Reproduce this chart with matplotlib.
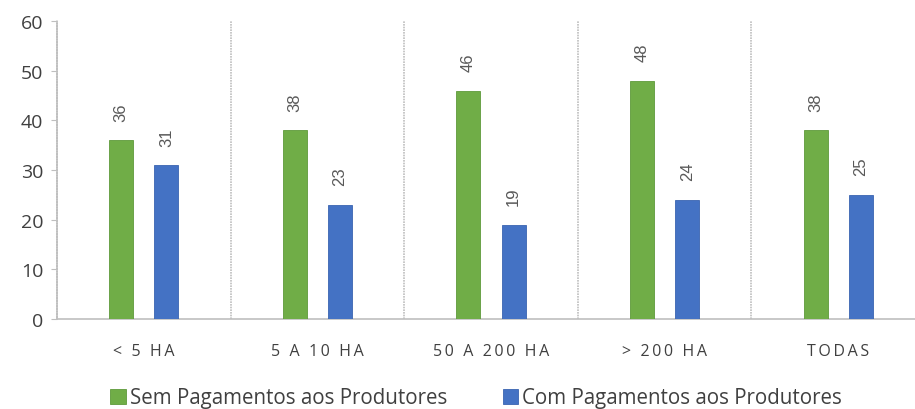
import matplotlib.pyplot as plt
import numpy as np

# dados do grafico
categorias = ["< 5 HA", "5 A 10 HA", "50 A 200 HA", "> 200 HA", "TODAS"]
sem_pagamentos = [36, 38, 46, 48, 38]
com_pagamentos = [31, 23, 19, 24, 25]
serie_nomes = ["Sem Pagamentos aos Produtores", "Com Pagamentos aos Produtores"]
y_ticks = [0, 10, 20, 30, 40, 50, 60]

verde = "#70AD47"
azul = "#4472C4"
cinza = "#595959"
linha = "#BFBFBF"

plt.rcParams['font.family'] = ['Open Sans', 'DejaVu Sans']


def espacar(texto):
    # letras espaçadas como no original
    return "\u2009".join(texto)


fig = plt.figure(figsize=(9.15, 4.1), dpi=100)
ax = fig.add_axes([57 / 915, 90 / 410, 868 / 915, 298 / 410])

x = np.arange(len(categorias))
largura = 0.138
desloc = 0.13

b1 = ax.bar(x - desloc, sem_pagamentos, largura, color=verde, edgecolor="#5E9A3A",
            linewidth=0.6, label=serie_nomes[0], zorder=3)
b2 = ax.bar(x + desloc, com_pagamentos, largura, color=azul, edgecolor="#3A64B0",
            linewidth=0.6, label=serie_nomes[1], zorder=3)

for barras in (b1, b2):
    for r in barras:
        ax.annotate(str(int(r.get_height())),
                    (r.get_x() + r.get_width() / 2, r.get_height()),
                    xytext=(0, 14), textcoords="offset points",
                    rotation=90, ha="center", va="bottom",
                    fontsize=12, color=cinza, family=["Liberation Sans"])

ax.set_xlim(-0.5, len(categorias) - 0.5)
ax.set_ylim(0, 60)
ax.set_yticks(y_ticks)
ax.tick_params(axis="y", labelsize=14, labelcolor="#404040", color=linha,
               length=4, width=0.8, pad=6)

ax.set_xticks(x)
ax.set_xticklabels([espacar(c) for c in categorias])
ax.tick_params(axis="x", length=0, labelsize=11.5, labelcolor="#404040", pad=17)

# separadores entre categorias
for b in np.arange(0.5, len(categorias) - 0.5, 1):
    ax.axvline(b, color=linha, linewidth=1.2, linestyle=(0, (1, 0.6)), zorder=1)

for lado in ("top", "right"):
    ax.spines[lado].set_visible(False)
ax.spines["left"].set_color(linha)
ax.spines["left"].set_linewidth(1.2)
ax.spines["left"].set_linestyle((0, (1, 0.6)))
ax.spines["bottom"].set_color(linha)
ax.spines["bottom"].set_linewidth(1.2)

fig.legend(handles=[b1, b2], loc="center", bbox_to_anchor=(476 / 915, 1 - 399 / 410),
           ncol=2, frameon=False, fontsize=14.8, handlelength=0.75, handleheight=0.75,
           handletextpad=0.2, columnspacing=2.7, labelcolor="#404040")

fig.savefig("out.png", dpi=100)
